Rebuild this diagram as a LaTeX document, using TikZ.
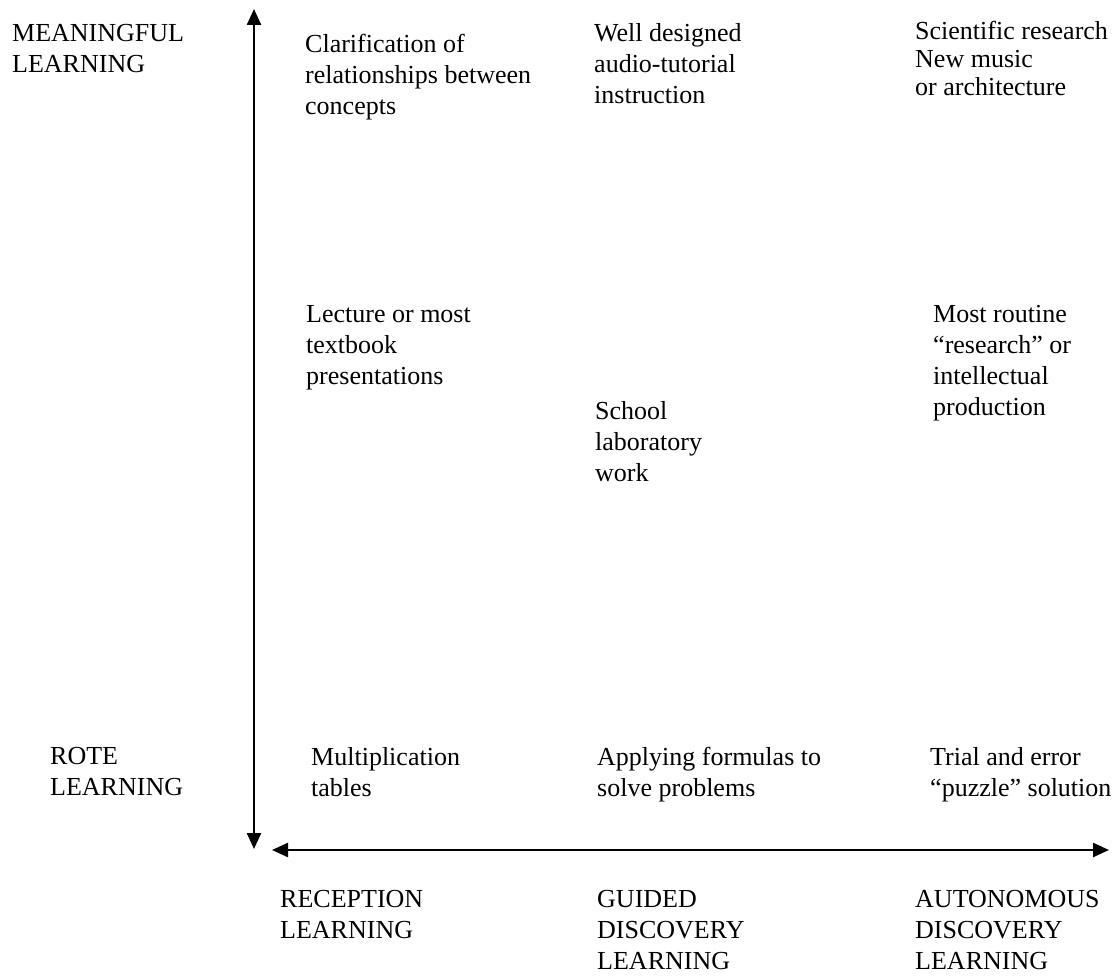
\documentclass[tikz,border=0pt]{standalone}
\usepackage{fontspec}
\setmainfont{Liberation Serif}
\usetikzlibrary{arrows.meta}
\begin{document}
\begin{tikzpicture}[x=1pt,y=-1pt,
  lbl/.style={anchor=north west,inner sep=0pt,align=left,font=\fontsize{26}{31}\selectfont},
  tight/.style={font=\fontsize{26}{28}\selectfont},
  axis/.style={line width=2.4pt,{Triangle[length=16pt,width=14pt]}-{Triangle[length=16pt,width=14pt]}}]
\fill[white] (0,0) rectangle (1117,976);
\useasboundingbox (0,0) rectangle (1117,976);
% axes
\coordinate (vtop) at (254,9);
\coordinate (vbot) at (254,849);
\coordinate (hleft) at (272,850);
\coordinate (hright) at (1109,850);
\draw[axis] (vtop) -- (vbot);
\draw[axis] (hleft) -- (hright);
% axis labels
\node[lbl] (meaningful) at (12,24) {MEANINGFUL\\LEARNING};
\node[lbl] (rote) at (50,747) {ROTE\\LEARNING};
\node[lbl] (reception) at (280,890) {RECEPTION\\LEARNING};
\node[lbl] (guided) at (597,890) {GUIDED\\DISCOVERY\\LEARNING};
\node[lbl] (autonomous) at (915,890) {AUTONOMOUS\\DISCOVERY\\LEARNING};
% top row
\node[lbl] (clar) at (305,34) {Clarification of\\relationships between\\concepts};
\node[lbl] (well) at (594,23) {Well designed\\audio-tutorial\\instruction};
\node[lbl,tight] (sci) at (915,21) {Scientific research\\New music\\or architecture};
% middle row
\node[lbl] (lecture) at (306,305) {Lecture or most\\textbook\\presentations};
\node[lbl] (routine) at (933,305) {Most routine\\“research” or\\intellectual\\production};
\node[lbl] (school) at (595,401) {School\\laboratory\\work};
% bottom row
\node[lbl] (mult) at (311,747) {Multiplication\\tables};
\node[lbl] (apply) at (597,747) {Applying formulas to\\solve problems};
\node[lbl] (trial) at (930,747) {Trial and error\\“puzzle” solution};
\end{tikzpicture}
\end{document}
